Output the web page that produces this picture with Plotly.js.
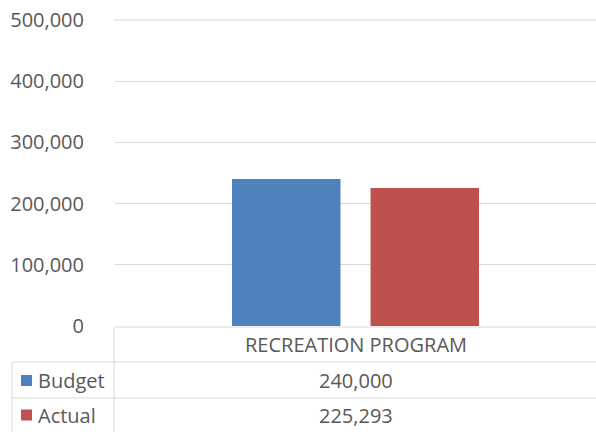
<!DOCTYPE html>
<html>
<head>
<meta charset="utf-8">
<script src="https://cdn.plot.ly/plotly-3.0.1.min.js"></script>
<style>html,body{margin:0;padding:0;background:#fff;}#chart{width:596px;height:432px;}</style>
</head>
<body>
<div id="chart"></div>
<script>
const categories = ["RECREATION PROGRAM"];
const seriesNames = ["Budget", "Actual"];
const budget = [240000];
const actual = [225293];
const seriesColors = ["#4F81BD", "#C0504D"];
const yTicks = [0, 100000, 200000, 300000, 400000, 500000];

const FONT = "Open Sans, sans-serif";
const TXT = "#595959";
const LINE = "#d9d9d9";

const W = 596, H = 432, L = 115, R = 0, T = 20, B = 106;
const pw = W - L - R, ph = H - T - B;
const px = x => (x - L) / pw;
const py = y => (H - B - y) / ph;

const data = [budget, actual].map((vals, i) => ({
  type: "bar",
  x: categories,
  y: vals,
  name: seriesNames[i],
  marker: {color: seriesColors[i]},
  hoverinfo: "none"
}));

const fmt = v => v.toLocaleString("en-US");

const ln = (x0, y0, x1, y1) => ({type: "line", xref: "paper", yref: "paper", x0: px(x0), x1: px(x1), y0: py(y0), y1: py(y1), line: {color: LINE, width: 1}});
const shapes = [
  ln(114, 20, 596, 20),
  ln(114, 327, 596, 327),
  ln(114, 327, 114, 432),
  ln(12, 362, 596, 362),
  ln(12, 398, 596, 398),
  ln(12, 362, 12, 432)
];
const annotations = [
  {xref: "paper", yref: "paper", x: 0.5, y: py(344), text: categories[0], showarrow: false, xanchor: "center", yanchor: "middle", font: {family: FONT, size: 20, color: TXT}}
];
const rowY = [380.5, 415];
const series = [budget, actual];
seriesNames.forEach((n, i) => {
  shapes.push({type: "rect", xref: "paper", yref: "paper", x0: px(21), x1: px(32), y0: py(rowY[i] - 5.5), y1: py(rowY[i] + 5.5), fillcolor: seriesColors[i], line: {width: 0}});
  annotations.push({xref: "paper", yref: "paper", x: px(36), y: py(rowY[i]), text: n, showarrow: false, xanchor: "left", yanchor: "middle", font: {family: FONT, size: 20, color: TXT}});
  annotations.push({xref: "paper", yref: "paper", x: 0.5, y: py(rowY[i]), text: fmt(series[i][0]), showarrow: false, xanchor: "center", yanchor: "middle", font: {family: FONT, size: 20, color: TXT}});
});

const layout = {
  width: W, height: H,
  margin: {l: L, r: R, t: T, b: B, pad: 0},
  paper_bgcolor: "#fff", plot_bgcolor: "#fff",
  showlegend: false,
  barmode: "group",
  bargap: 0.424,
  bargroupgap: 0.217,
  font: {family: FONT, color: TXT},
  xaxis: {showticklabels: false, showgrid: false, zeroline: false, showline: false, ticks: "", fixedrange: true},
  yaxis: {range: [0, 500000], tickvals: yTicks, ticktext: yTicks.map(fmt), showgrid: true, gridcolor: LINE, gridwidth: 1, zeroline: false, showline: false, ticks: "", ticklabelstandoff: 30, tickfont: {family: FONT, size: 20, color: TXT}, fixedrange: true},
  shapes: shapes,
  annotations: annotations
};

Plotly.newPlot("chart", data, layout, {staticPlot: true, displayModeBar: false});
</script>
</body>
</html>
